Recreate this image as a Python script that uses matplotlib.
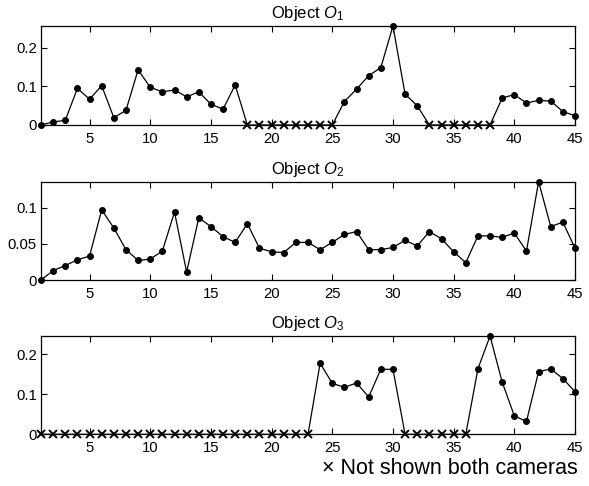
import numpy as np
import matplotlib
matplotlib.use("Agg")
import matplotlib.pyplot as plt

plt.rcParams['font.family'] = ['Liberation Sans', 'DejaVu Sans']
plt.rcParams['mathtext.fontset'] = 'custom'
plt.rcParams['mathtext.it'] = 'Liberation Sans:italic'
plt.rcParams['mathtext.rm'] = 'Liberation Sans'

frames = list(range(1, 46))

o1 = [0, 0.008, 0.012, 0.095, 0.067, 0.102, 0.019, 0.038, 0.143, 0.098,
      0.086, 0.091, 0.073, 0.086, 0.054, 0.041, 0.104, 0, 0, 0,
      0, 0, 0, 0, 0, 0.061, 0.093, 0.128, 0.149, 0.257,
      0.080, 0.050, 0, 0, 0, 0, 0, 0, 0.070, 0.079,
      0.057, 0.064, 0.062, 0.035, 0.024]
o1_missing = [18, 19, 20, 21, 22, 23, 24, 25, 33, 34, 35, 36, 37, 38]

o2 = [0, 0.013, 0.020, 0.028, 0.033, 0.097, 0.072, 0.042, 0.027, 0.029,
      0.040, 0.094, 0.011, 0.086, 0.074, 0.060, 0.052, 0.078, 0.044, 0.039,
      0.038, 0.052, 0.052, 0.042, 0.052, 0.063, 0.067, 0.042, 0.042, 0.045,
      0.055, 0.047, 0.067, 0.057, 0.039, 0.024, 0.061, 0.061, 0.059, 0.065,
      0.040, 0.136, 0.074, 0.080, 0.044]
o2_missing = []

o3 = [0] * 23 + [0.177, 0.127, 0.117, 0.128, 0.093, 0.162, 0.162,
                 0, 0, 0, 0, 0, 0,
                 0.163, 0.245, 0.130, 0.046, 0.032, 0.156, 0.163, 0.139, 0.106]
o3_missing = list(range(1, 24)) + [31, 32, 33, 34, 35, 36]

series = [("Object $O_1$", o1, o1_missing, [0, 0.1, 0.2], ["0", "0.1", "0.2"]),
          ("Object $O_2$", o2, o2_missing, [0, 0.05, 0.1], ["0", "0.05", "0.1"]),
          ("Object $O_3$", o3, o3_missing, [0, 0.1, 0.2], ["0", "0.1", "0.2"])]

xticks = [5, 10, 15, 20, 25, 30, 35, 40, 45]

W, H = 589, 486
fig = plt.figure(figsize=(W / 100, H / 100), dpi=100)

boxes = [(41, 575, 26, 125), (41, 575, 181.7, 280), (41, 575, 336, 434.3)]

for (title, vals, missing, yt, ytl), (l, r, t, b) in zip(series, boxes):
    ax = fig.add_axes([l / W, 1 - b / H, (r - l) / W, (b - t) / H])
    x = np.array(frames)
    y = np.array(vals)
    ax.plot(x, y, color='black', lw=0.9, zorder=2, clip_on=False)
    miss = np.isin(x, missing)
    ax.plot(x[~miss], y[~miss], 'o', color='black', ms=4.0, zorder=3, clip_on=False)
    ax.plot(x[miss], y[miss], 'x', color='black', ms=6.3, mew=1.4, zorder=3, clip_on=False)
    ax.set_xlim(1, 45)
    ax.set_ylim(0, max(vals))
    ax.set_xticks(xticks)
    ax.set_yticks(yt)
    ax.set_yticklabels(ytl)
    ax.tick_params(direction='in', top=True, right=True, length=4, width=0.8,
                   labelsize=10.7)
    ax.tick_params(axis='x', pad=5)
    ax.tick_params(axis='y', pad=3)
    for s in ax.spines.values():
        s.set_linewidth(0.9)
    ax.set_title(title, fontsize=12, pad=5.5)

fig.text(578 / W, 1 - 468 / H, "× Not shown both cameras", ha='right', va='center',
         fontsize=15.5)

fig.savefig("out.png", dpi=100)
